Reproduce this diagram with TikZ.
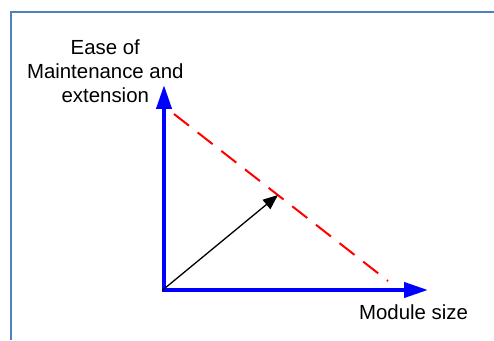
\documentclass[tikz,border=0pt]{standalone}
\usepackage{fontspec}
\setmainfont{Liberation Sans}
\usetikzlibrary{arrows.meta}
\definecolor{frameblue}{RGB}{79,129,189}
\definecolor{axisblue}{RGB}{0,0,255}
\definecolor{dashred}{RGB}{255,0,0}
\tikzset{
  frameline/.style={draw=frameblue, line width=2.3pt},
  axisline/.style={draw=axisblue, line width=4pt, -{Triangle[length=24pt,width=15pt]}},
  vecline/.style={draw=black, line width=1.3pt, -{Triangle[length=15pt,width=12pt]}},
  tradeoff/.style={draw=dashred, line width=2pt, dash pattern=on 19pt off 11pt},
  lbl/.style={font=\fontsize{20.4pt}{24pt}\selectfont, inner sep=0pt, anchor=base}
}
\begin{document}
\begin{tikzpicture}[x=1pt,y=1pt]
\useasboundingbox (0,0) rectangle (494,340);
% frame
\coordinate (f1) at (11.2,0);
\coordinate (f2) at (11.2,328.2);
\coordinate (f3) at (494,328.2);
\draw[frameline] (f1) -- (f2) -- (f3);
% axes
\coordinate (O) at (164,50);
\coordinate (Otop) at (164,52);
\coordinate (Oleft) at (162,50);
\coordinate (ytip) at (164,255);
\coordinate (xtip) at (428,50);
\draw[axisline] (Otop) -- (ytip);
\draw[axisline] (Oleft) -- (xtip);
% dashed trade-off line
\coordinate (ra) at (174,226);
\coordinate (rb) at (388,59);
\draw[tradeoff] (ra) -- (rb);
% vector
\coordinate (vs) at (162.7,50);
\coordinate (vt) at (278,145);
\draw[vecline] (vs) -- (vt);
% labels
\node[lbl] (yl1) at (105.3,285) {Ease of};
\node[lbl] (yl2) at (105.3,261) {Maintenance and};
\node[lbl] (yl3) at (105.3,237) {extension};
\node[lbl] (xl) at (413.5,21) {Module size};
\end{tikzpicture}
\end{document}
